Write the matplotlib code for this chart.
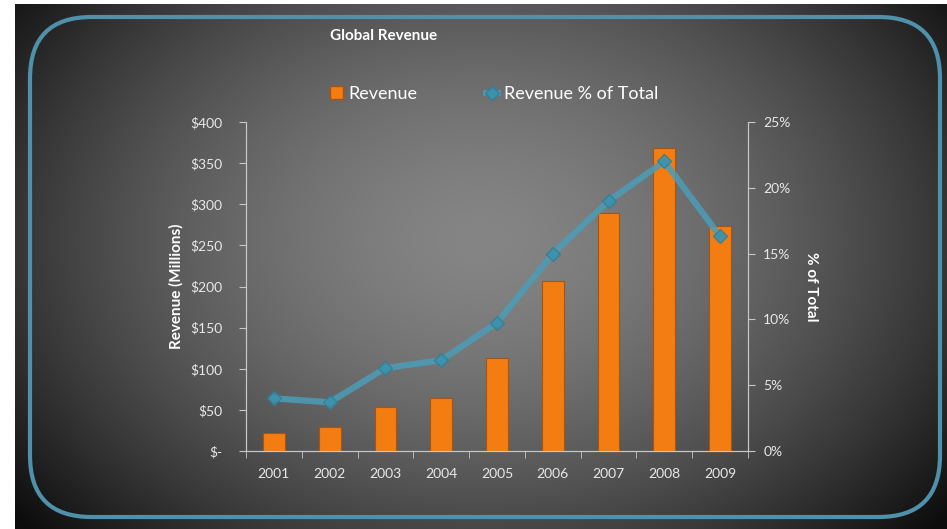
import numpy as np
import matplotlib
matplotlib.use('Agg')
import matplotlib.pyplot as plt
from matplotlib.patches import FancyBboxPatch
from matplotlib.lines import Line2D
from matplotlib.patches import Patch

plt.rcParams['font.family'] = ['Lato', 'DejaVu Sans']

# data
years = ['2001', '2002', '2003', '2004', '2005', '2006', '2007', '2008', '2009']
revenue = [22, 29, 53, 64, 113, 207, 289, 368, 273]
pct_total = [4.0, 3.7, 6.3, 6.9, 9.75, 15.0, 19.0, 22.0, 16.3]
rev_ticks = [0, 50, 100, 150, 200, 250, 300, 350, 400]
rev_labels = ['$-', '$50', '$100', '$150', '$200', '$250', '$300', '$350', '$400']
pct_ticks = [0, 5, 10, 15, 20, 25]

W, H = 947, 529
fig = plt.figure(figsize=(W / 100, H / 100), dpi=100, facecolor='white')

# dark slide background with lighter centre
bg = fig.add_axes([15 / W, 0, 1 - 15 / W, 1 - 4 / H])
yy, xx = np.mgrid[0:1:300j, 0:1:500j]
r = np.sqrt(((xx - 0.5) / 0.62) ** 2 + ((yy - 0.45) / 0.8) ** 2)
shade = np.clip(0.52 - 0.44 * r ** 1.6, 0.05, 1)
bg.imshow(shade, cmap='gray', vmin=0, vmax=1, extent=[0, 1, 0, 1],
          aspect='auto', interpolation='bicubic')
bg.set_axis_off()

# rounded blue frame
frame = FancyBboxPatch((30 / W, 12 / H), 910 / W, 500 / H,
                       boxstyle='round,pad=0,rounding_size=0.065',
                       transform=fig.transFigure, fill=False,
                       edgecolor='#4f90ab', linewidth=3, mutation_aspect=W / H)
fig.patches.append(frame)

txt = '#e8e8e8'
spine_c = '#c8c8c8'

ax = fig.add_axes([246 / W, 1 - 451 / H, (748 - 246) / W, (451 - 122) / H])
ax.set_facecolor('none')
x = np.arange(len(years))
ax.bar(x, revenue, width=0.39, color='#f47d12', edgecolor='#a85410',
       linewidth=0.8, zorder=2)
ax.set_xlim(-0.5, len(years) - 0.5)
ax.set_ylim(0, 400)
ax.set_yticks(rev_ticks)
ax.set_yticklabels(rev_labels)
ax.set_xticks(x)
ax.set_xticklabels(years)
ax.set_xticks(np.arange(-0.5, len(years)), minor=True)
ax.tick_params(axis='x', which='major', length=0, pad=12, colors=txt, labelsize=10)
ax.tick_params(axis='x', which='minor', length=5, color=spine_c, direction='out')
ax.tick_params(axis='y', colors=txt, labelsize=10, length=5, color=spine_c, pad=12)
ax.spines['top'].set_visible(False)
for s in ['left', 'bottom', 'right']:
    ax.spines[s].set_color(spine_c)
ax.set_ylabel('Revenue (Millions)', color='white', fontsize=11,
              fontweight='bold', labelpad=5)

ax2 = ax.twinx()
ax2.plot(x, pct_total, color='#4b9db8', linewidth=4.5, alpha=0.85,
         marker='D', markersize=7, markerfacecolor='#3a92ad',
         markeredgecolor='#2f7f96', zorder=3)
ax2.set_ylim(0, 25)
ax2.set_yticks(pct_ticks)
ax2.set_yticklabels([f'{p}%' for p in pct_ticks])
ax2.tick_params(axis='y', colors=txt, labelsize=10, length=5, color=spine_c, pad=6)
ax2.spines['top'].set_visible(False)
for s in ['left', 'bottom', 'right']:
    ax2.spines[s].set_color(spine_c)
ax2.set_ylabel('% of Total', color='white', fontsize=11, fontweight='bold',
               rotation=-90, labelpad=20)

fig.text(330 / W, 1 - 36 / H, 'Global Revenue', color='white', fontsize=11,
         fontweight='bold', va='center', ha='left')

handles = [Patch(facecolor='#f47d12', edgecolor='#a85410'),
           Line2D([0], [0], color='#4b9db8', linewidth=4, marker='D',
                  markersize=7, markerfacecolor='#3a92ad', markeredgecolor='#2f7f96')]
leg = fig.legend(handles, ['Revenue', 'Revenue % of Total'], loc='center',
                 bbox_to_anchor=(494 / W, 1 - 94 / H), ncol=2, frameon=False,
                 fontsize=13, handlelength=0.7, handletextpad=0.3,
                 columnspacing=3.8, labelcolor='white')

fig.savefig('out.png', dpi=100, facecolor='white')
